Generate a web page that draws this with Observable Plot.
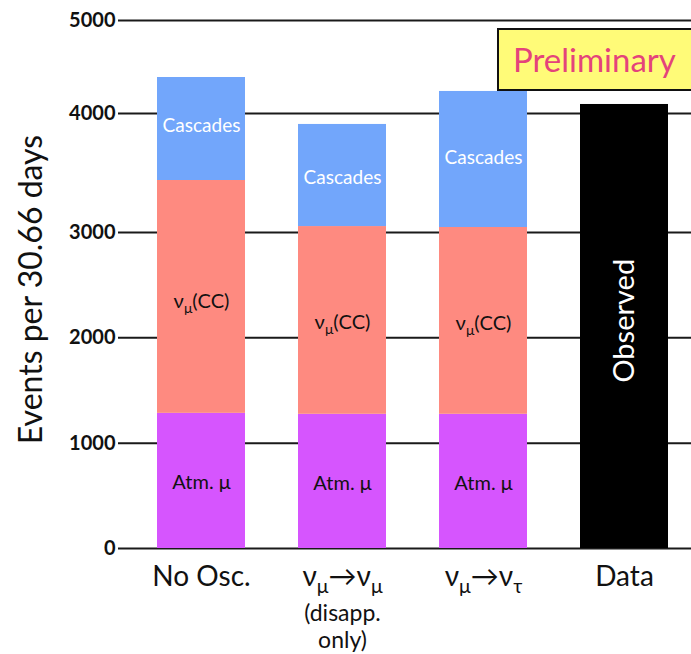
<!DOCTYPE html>
<html><head><meta charset="utf-8">
<script src="https://cdn.jsdelivr.net/npm/d3@7"></script>
<script src="https://cdn.jsdelivr.net/npm/@observablehq/plot@0.6"></script>
<style>
body{margin:0;background:#fff;}
#wrap{position:relative;width:691px;height:654px;font-family:Lato,sans-serif;}
#prelim{position:absolute;left:497px;top:28px;width:200px;height:63px;box-sizing:border-box;background:#fffb78;border:2px solid #111;color:#e4437b;font-size:33px;line-height:58px;padding-left:14px;font-family:Lato,sans-serif;}
</style></head><body><div id="wrap"><div id="prelim">Preliminary</div></div>
<script>
// categories (x) and stacked components
const categories = ["No Osc.", "νμ→νμ", "νμ→ντ", "Data"];
const subLabels = ["", "(disapp.\nonly)", "", ""];
const simCategories = ["No Osc.", "νμ→νμ", "νμ→ντ"];
const components = ["Atm. μ", "νμ(CC)", "Cascades"];
const componentColors = ["#d655fe", "#fe8a80", "#72a6fb"];
// simulated event counts per component
const atmMu = [1283, 1274, 1274];
const numuCC = [2154, 1776, 1768];
const cascades = [950, 858, 1195];
// observed
const dataCategory = "Data";
const observed = 4097;
const yTicks = [0, 1000, 2000, 3000, 4000, 5000];
const yLabel = "Events per 30.66 days";

const rows = [];
simCategories.forEach((c, i) => {
  rows.push({cat: c, comp: components[0], value: atmMu[i]});
  rows.push({cat: c, comp: components[1], value: numuCC[i]});
  rows.push({cat: c, comp: components[2], value: cascades[i]});
});
const dataRows = [{cat: dataCategory, value: observed}];
const subRows = categories.map((c, i) => ({cat: c, text: subLabels[i]})).filter(d => d.text);

const chart = Plot.plot({
  width: 691, height: 654,
  marginLeft: 118, marginRight: 0, marginTop: 20, marginBottom: 106,
  style: {fontFamily: "Lato, sans-serif", background: "transparent", color: "#111", overflow: "visible"},
  x: {type: "band", domain: categories, range: [157, 668], paddingInner: 0.376, paddingOuter: 0},
  y: {type: "linear", domain: [0, 3000, 4000, 5000], range: [548, 232, 113, 20]},
  color: {domain: components, range: componentColors},
  marks: [
    Plot.ruleY(yTicks, {stroke: "#1a1a1a", strokeWidth: 2}),
    Plot.barY(rows, Plot.stackY({x: "cat", y: "value", fill: "comp"})),
    Plot.barY(dataRows, {x: "cat", y: "value", fill: "black"}),
    Plot.text(rows, Plot.stackY({x: "cat", y: "value", text: d => d.comp === "Cascades" ? d.comp : null, fill: "white", fontSize: 19, dy: 2})),
    Plot.text(rows, Plot.stackY({x: "cat", y: "value", text: d => d.comp !== "Cascades" ? d.comp : null, fill: "#111", fontSize: 20, dy: 2})),
    Plot.text(dataRows, {x: "cat", y: d => d.value / 2, text: () => "Observed", rotate: -90, fill: "white", fontSize: 29, dy: -12}),
    Plot.axisY(yTicks, {tickSize: 0, tickPadding: 3, fontSize: 20, fontWeight: "bold", tickFormat: d3.format("d"), label: null}),
    Plot.axisX({tickSize: 0, tickPadding: 18, fontSize: 28, label: null}),
    Plot.text(subRows, {x: "cat", text: "text", frameAnchor: "bottom", lineAnchor: "top", dy: 54, fontSize: 23, lineHeight: 1.16, fill: "#111"}),
    Plot.text([yLabel], {text: d => d, frameAnchor: "left", textAnchor: "middle", rotate: -90, dx: -87, dy: 5, fontSize: 32, fill: "#111"})
  ]
});
const wrap = document.getElementById("wrap");
wrap.insertBefore(chart, wrap.firstChild);

// render ν followed by μ/τ with a subscript
function subscriptify(svg) {
  const els = [...svg.querySelectorAll("text, tspan")].filter(el =>
    [...el.childNodes].every(n => n.nodeType === 3) && /ν[μτ]/.test(el.textContent));
  for (const el of els) {
    const s = el.textContent;
    const fs = parseFloat(getComputedStyle(el).fontSize) || 20;
    const shift = 0.25 * fs;
    el.textContent = "";
    let buf = "", pendingUp = false;
    const flush = () => {
      if (!buf) return;
      const t = document.createElementNS("http://www.w3.org/2000/svg", "tspan");
      if (pendingUp) { t.setAttribute("dy", -shift); pendingUp = false; }
      t.textContent = buf; el.appendChild(t); buf = "";
    };
    for (let i = 0; i < s.length; i++) {
      const ch = s[i];
      if ((ch === "μ" || ch === "τ") && s[i - 1] === "ν") {
        flush();
        const t = document.createElementNS("http://www.w3.org/2000/svg", "tspan");
        t.setAttribute("dy", shift);
        t.setAttribute("font-size", (fs * 0.7) + "px");
        t.textContent = ch; el.appendChild(t);
        pendingUp = true;
      } else buf += ch;
    }
    flush();
  }
}
subscriptify(chart);
</script>
</body></html>
